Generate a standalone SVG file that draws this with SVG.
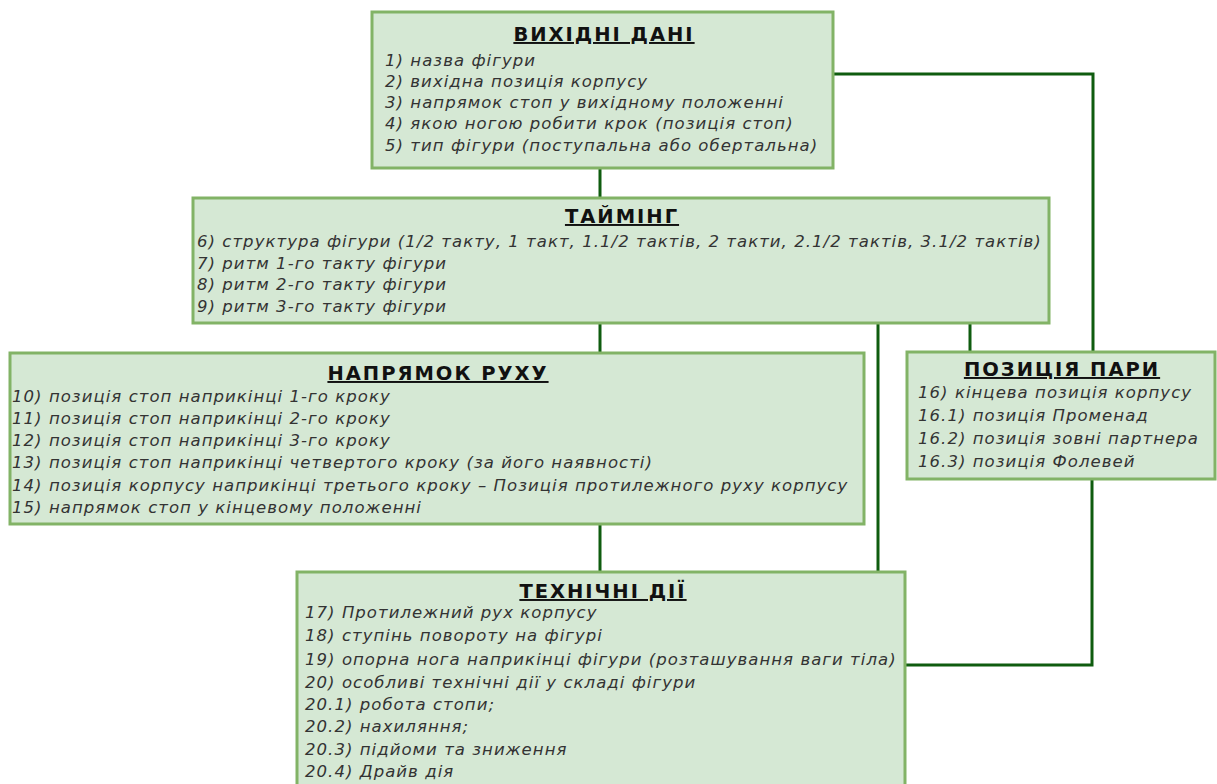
<svg xmlns="http://www.w3.org/2000/svg" width="1217" height="784" viewBox="0 0 1217 784">
<style>
.box{fill:#d5e8d4;stroke:#82b366;stroke-width:3}
.ttl{font-family:"DejaVu Sans","Liberation Sans",sans-serif;font-weight:bold;font-size:19.5px;letter-spacing:2px;fill:#111;text-anchor:middle;text-decoration:underline}
.t{font-family:"DejaVu Sans","Liberation Sans",sans-serif;font-style:italic;font-size:16.5px;letter-spacing:1.05px;fill:#333}
.c{fill:none;stroke:#0f5c0f;stroke-width:3}
</style>
<rect width="1217" height="784" fill="#ffffff"/>
<g id="connectors">
<path class="c" d="M833,74 H1093 V352"/>
<path class="c" d="M600,168 V198"/>
<path class="c" d="M600,323 V353"/>
<path class="c" d="M878,323 V572"/>
<path class="c" d="M970,323 V352"/>
<path class="c" d="M600,524 V572"/>
<path class="c" d="M1092,479 V665 H905"/>
</g>
<g id="vykhidni">
<rect class="box" x="372" y="12" width="461" height="156"/>
<text class="ttl" x="604" y="41">ВИХІДНІ ДАНІ</text>
<text class="t" x="385" y="66">1) назва фігури</text>
<text class="t" x="385" y="87">2) вихідна позиція корпусу</text>
<text class="t" x="385" y="108">3) напрямок стоп у вихідному положенні</text>
<text class="t" x="385" y="129">4) якою ногою робити крок (позиція стоп)</text>
<text class="t" x="385" y="151">5) тип фігури (поступальна або обертальна)</text>
</g>
<g id="taiming">
<rect class="box" x="193" y="198" width="856" height="125"/>
<text class="ttl" x="622" y="223">ТАЙМІНГ</text>
<text class="t" x="197" y="246.5">6) структура фігури (1/2 такту, 1 такт, 1.1/2 тактів, 2 такти, 2.1/2 тактів, 3.1/2 тактів)</text>
<text class="t" x="197" y="268.5">7) ритм 1-го такту фігури</text>
<text class="t" x="197" y="290">8) ритм 2-го такту фігури</text>
<text class="t" x="197" y="311.5">9) ритм 3-го такту фігури</text>
</g>
<g id="napryamok">
<rect class="box" x="10" y="353" width="854" height="171"/>
<text class="ttl" x="438" y="380">НАПРЯМОК РУХУ</text>
<text class="t" x="12" y="402">10) позиція стоп наприкінці 1-го кроку</text>
<text class="t" x="12" y="423.5">11) позиція стоп наприкінці 2-го кроку</text>
<text class="t" x="12" y="446">12) позиція стоп наприкінці 3-го кроку</text>
<text class="t" x="12" y="468">13) позиція стоп наприкінці четвертого кроку (за його наявності)</text>
<text class="t" x="12" y="490.5">14) позиція корпусу наприкінці третього кроку – Позиція протилежного руху корпусу</text>
<text class="t" x="12" y="512.5">15) напрямок стоп у кінцевому положенні</text>
</g>
<g id="pozytsiya">
<rect class="box" x="907" y="352" width="308" height="127"/>
<text class="ttl" x="1062" y="376">ПОЗИЦІЯ ПАРИ</text>
<text class="t" x="918" y="398">16) кінцева позиція корпусу</text>
<text class="t" x="918" y="421">16.1) позиція Променад</text>
<text class="t" x="918" y="444">16.2) позиція зовні партнера</text>
<text class="t" x="918" y="467">16.3) позиція Фолевей</text>
</g>
<g id="tekhnichni">
<rect class="box" x="297" y="572" width="608" height="230"/>
<text class="ttl" x="603" y="598">ТЕХНІЧНІ ДІЇ</text>
<text class="t" x="305" y="618">17) Протилежний рух корпусу</text>
<text class="t" x="305" y="641">18) ступінь повороту на фігурі</text>
<text class="t" x="305" y="664.5">19) опорна нога наприкінці фігури (розташування ваги тіла)</text>
<text class="t" x="305" y="687.5">20) особливі технічні дії у складі фігури</text>
<text class="t" x="305" y="709.5">20.1) робота стопи;</text>
<text class="t" x="305" y="732">20.2) нахиляння;</text>
<text class="t" x="305" y="755">20.3) підйоми та зниження</text>
<text class="t" x="305" y="777">20.4) Драйв дія</text>
</g>
</svg>
